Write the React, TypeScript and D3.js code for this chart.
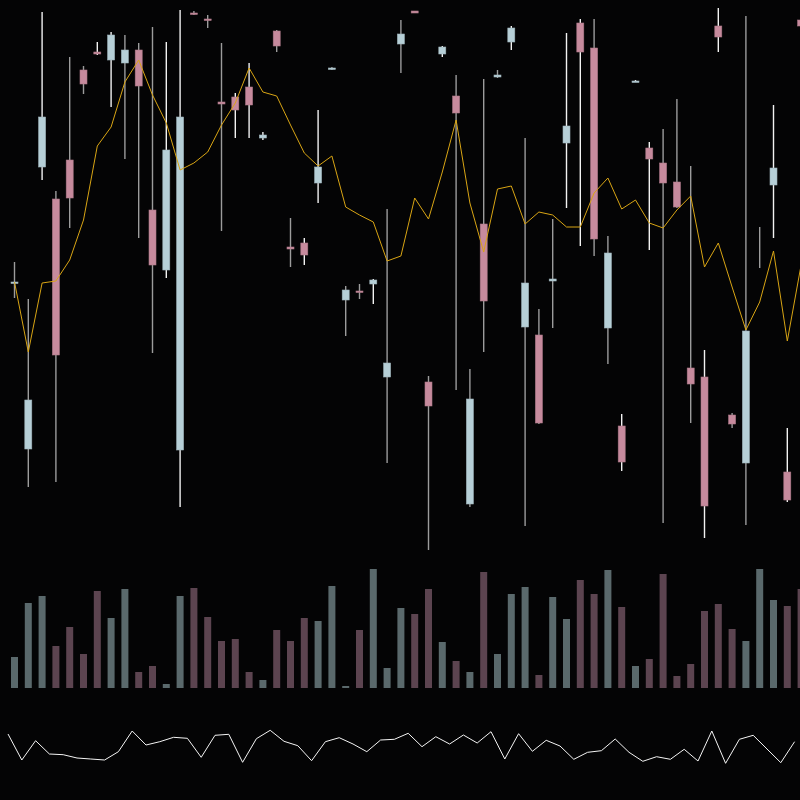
import { useEffect } from 'react';
import * as d3 from 'd3';

// OHLC per session (price units)
const opens = [277, 111, 393, 361, 400, 490, 508, 500, 497, 510, 350, 290, 110, 547, 541, 458, 463, 473, 422, 529, 313, 317, 377, 491, 260, 269, 276, 183, 516, 549, 178, 506, 464, 56, 336, 483, 518, 233, 225, 279, 417, 537, 512, 232, 134, 478, 412, 397, 378, 192, 183, 534, 145, 97, 313, 375, 88, 540];
const closes = [278, 160, 443, 205, 362, 476, 506, 525, 510, 474, 295, 410, 443, 546, 540, 456, 450, 455, 425, 514, 311, 305, 393, 492, 270, 268, 280, 197, 526, 547, 154, 513, 447, 161, 259, 485, 532, 277, 137, 281, 434, 508, 321, 307, 98, 479, 401, 377, 353, 176, 54, 523, 136, 229, 313, 392, 60, 534];
const highs = [298, 261, 548, 369, 503, 494, 518, 528, 525, 517, 533, 518, 550, 549, 545, 517, 467, 497, 428, 530, 342, 322, 450, 493, 274, 276, 281, 351, 540, 549, 184, 514, 485, 191, 481, 490, 534, 422, 251, 341, 527, 541, 541, 324, 146, 480, 418, 431, 461, 394, 210, 552, 147, 544, 333, 455, 132, 542];
const lows = [262, 73, 380, 78, 332, 466, 505, 453, 401, 322, 207, 282, 53, 545, 532, 329, 422, 422, 420, 508, 293, 295, 357, 490, 224, 261, 256, 97, 487, 547, 10, 503, 170, 53, 208, 482, 510, 34, 136, 232, 352, 314, 304, 196, 89, 478, 310, 37, 352, 137, 22, 508, 132, 35, 292, 322, 58, 532];

// moving average overlay
const average = [278, 208, 277, 279, 300, 340, 414, 433, 478, 500, 465, 437, 390, 397, 408, 435, 457, 492, 468, 464, 435, 407, 394, 404, 353, 345, 338, 299, 304, 362, 341, 388, 440, 357, 308, 371, 374, 336, 348, 345, 333, 333, 367, 382, 351, 360, 337, 332, 350, 364, 293, 317, 273, 230, 258, 309, 219, 295];

// traded volume
const volumes = [31, 85, 92, 42, 61, 34, 97, 70, 99, 16, 22, 4, 92, 100, 71, 47, 49, 16, 8, 58, 47, 70, 67, 102, 2, 58, 119, 20, 80, 74, 99, 46, 27, 16, 116, 34, 94, 101, 13, 91, 69, 108, 94, 118, 81, 22, 29, 114, 12, 24, 77, 84, 59, 47, 119, 88, 82, 99];

// oscillator in the lower pane
const oscillator = [36, 10, 29.3, 16, 15.3, 12, 11, 10, 18.3, 39, 25, 28.3, 32.7, 31.7, 12.7, 34.7, 35.7, 7.7, 31.3, 39.7, 28.7, 24.3, 9.3, 28.3, 32.3, 26, 18.3, 30, 30.7, 36.7, 23.3, 33.3, 26, 35, 27, 38.3, 11, 36.3, 18.7, 29.7, 24, 10.7, 17.7, 19.3, 31, 17.7, 8.7, 13.3, 10.7, 20.7, 9, 39, 6.7, 30.7, 34.7, 21, 7.3, 28.3];

// sessions whose shadow is drawn bright
const brightWick = [0, 0, 1, 0, 0, 0, 1, 1, 0, 0, 0, 1, 1, 0, 0, 0, 1, 1, 1, 0, 0, 1, 1, 0, 0, 0, 1, 0, 0, 0, 0, 1, 0, 0, 0, 0, 1, 0, 0, 0, 1, 1, 0, 0, 1, 1, 1, 0, 0, 0, 1, 1, 0, 0, 0, 1, 1, 0];

const W = 800;
const H = 800;
const UP = '#b6cfd7';
const DOWN = '#c68a9d';
const VOL_UP = '#5a696c';
const VOL_DOWN = '#5c4450';

export default function App() {
  useEffect(() => {
    document.body.style.margin = '0';
    document.body.style.background = '#040405';
  }, []);

  const idx = d3.range(opens.length);
  const x = d3.scaleLinear().domain([0, opens.length - 1]).range([14.5, 14.5 + 13.8 * (opens.length - 1)]);
  const y = d3.scaleLinear().domain([0, 560]).range([560, 0]);
  const yVol = d3.scaleLinear().domain([0, 120]).range([688, 568]);
  const yOsc = d3.scaleLinear().domain([0, 40]).range([770, 730]);
  const bodyW = 7;
  const oscShift = -6.5;

  const maLine = d3.line<number>().x((_, i) => x(i)).y((d) => y(d));
  const oscLine = d3.line<number>().x((_, i) => x(i) + oscShift).y((d) => yOsc(d));

  return (
    <svg width={W} height={H} style={{ display: 'block', background: '#040405' }}>
      <rect width={W} height={H} fill="#040405" />

      {/* volume */}
      <g>
        {idx.map((i) => {
          const up = closes[i] >= opens[i];
          return (
            <rect
              key={i}
              x={x(i) - bodyW / 2}
              y={yVol(volumes[i])}
              width={bodyW}
              height={yVol(0) - yVol(volumes[i])}
              fill={up ? VOL_UP : VOL_DOWN}
            />
          );
        })}
      </g>

      {/* candles */}
      <g>
        {idx.map((i) => {
          const up = closes[i] >= opens[i];
          const top = y(Math.max(opens[i], closes[i]));
          const bottom = y(Math.min(opens[i], closes[i]));
          const col = up ? UP : DOWN;
          return (
            <g key={i}>
              <line
                x1={x(i)}
                x2={x(i)}
                y1={y(highs[i])}
                y2={y(lows[i])}
                stroke={brightWick[i] ? '#f2f2f2' : '#9c9c9c'}
                strokeWidth={1.4}
              />
              {bottom - top > 0 && (
                <rect
                  x={x(i) - bodyW / 2}
                  y={top}
                  width={bodyW}
                  height={Math.max(bottom - top, 1.5)}
                  fill={col}
                  stroke={d3.color(col)!.darker(0.4).toString()}
                  strokeWidth={0.6}
                />
              )}
            </g>
          );
        })}
      </g>

      {/* moving average */}
      <path d={maLine(average) ?? ''} fill="none" stroke="#d9a514" strokeWidth={1} />

      {/* oscillator */}
      <path d={oscLine(oscillator) ?? ''} fill="none" stroke="#f4f4f4" strokeWidth={1} />
    </svg>
  );
}
